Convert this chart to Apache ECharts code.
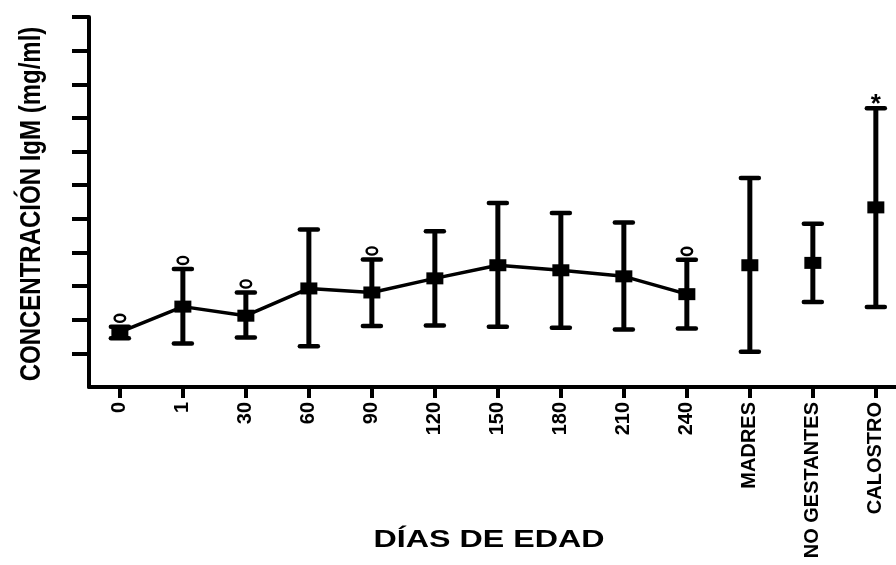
<!DOCTYPE html>
<html>
<head>
<meta charset="utf-8">
<script src="https://cdn.jsdelivr.net/npm/echarts@6/dist/echarts.min.js"></script>
<style>
  html, body { margin: 0; padding: 0; background: #fff; }
  #chart { width: 896px; height: 565px; }
</style>
</head>
<body>
<div id="chart"></div>
<script>
// Groups along the x axis
const categories = ['0', '1', '30', '60', '90', '120', '150', '180', '210', '240', 'MADRES', 'NO GESTANTES', 'CALOSTRO'];
// Mean IgM concentration per group (axis units)
const means = [1.63, 2.39, 2.12, 2.93, 2.81, 3.23, 3.62, 3.47, 3.29, 2.76, 3.62, 3.69, 5.34];
// Upper and lower ends of the error bars
const upper = [1.79, 3.51, 2.81, 4.68, 3.79, 4.63, 5.47, 5.17, 4.89, 3.78, 6.21, 4.85, 8.29];
const lower = [1.45, 1.29, 1.47, 1.21, 1.81, 1.83, 1.79, 1.76, 1.71, 1.74, 1.05, 2.53, 2.38];
// Significance marks drawn above the bars
const marks = ['o', 'o', 'o', '', 'o', '', '', '', '', 'o', '', '', '*'];
// Number of day-of-age groups joined by the line
const lineCount = 10;
// Y-axis tick positions (no labels drawn)
const yTicks = [1, 2, 3, 4, 5, 6, 7, 8, 9, 10, 11];

const idx = categories.map((c, i) => i);
const lineData = idx.slice(0, lineCount).map(i => [i, means[i]]);
const soloData = idx.slice(lineCount).map(i => [i, means[i]]);
const barData = idx.map(i => [i, lower[i], upper[i]]);

const chart = echarts.init(document.getElementById('chart'), null, { renderer: 'canvas' });

const boldFont = 'Liberation Sans, Arial, sans-serif';

chart.setOption({
  animation: false,
  backgroundColor: '#ffffff',
  grid: { left: 89, right: 0, top: 17, bottom: 178, containLabel: false },
  xAxis: {
    type: 'value',
    min: -0.49,
    max: 12.32,
    splitLine: { show: false },
    axisLine: { show: true, onZero: false, lineStyle: { color: '#000', width: 4 } },
    axisTick: { show: true, customValues: idx, length: 11, lineStyle: { color: '#000', width: 4 } },
    axisLabel: {
      show: true,
      customValues: idx,
      rotate: 90,
      margin: 15,
      color: '#000',
      fontFamily: boldFont,
      fontWeight: 'bold',
      fontSize: 20,
      formatter: v => categories[Math.round(v)]
    }
  },
  yAxis: {
    type: 'value',
    min: 0,
    max: 11,
    splitLine: { show: false },
    axisLine: { show: true, onZero: false, lineStyle: { color: '#000', width: 4 } },
    axisTick: { show: true, customValues: yTicks, length: 17, lineStyle: { color: '#000', width: 4 } },
    axisLabel: { show: false }
  },
  graphic: [
    {
      type: 'text',
      x: 32,
      y: 204,
      rotation: Math.PI / 2,
      scaleY: 1.25,
      style: {
        text: 'CONCENTRACIÓN IgM (mg/ml)',
        fill: '#000',
        font: 'bold 24px ' + boldFont,
        textAlign: 'center',
        textVerticalAlign: 'middle'
      }
    },
    {
      type: 'text',
      x: 489,
      y: 541,
      scaleX: 1.4,
      style: {
        text: 'DÍAS DE EDAD',
        fill: '#000',
        font: 'bold 23px ' + boldFont,
        textAlign: 'center',
        textVerticalAlign: 'middle'
      }
    }
  ],
  series: [
    {
      type: 'custom',
      name: 'errores',
      z: 2,
      data: barData,
      encode: { x: 0, y: [1, 2] },
      renderItem: function (params, api) {
        const i = api.value(0);
        const lo = api.coord([i, api.value(1)]);
        const hi = api.coord([i, api.value(2)]);
        const half = 9;
        const capStyle = { stroke: '#000', lineWidth: 4.5, lineCap: 'round' };
        const children = [
          { type: 'line', shape: { x1: lo[0], y1: lo[1], x2: hi[0], y2: hi[1] }, style: { stroke: '#000', lineWidth: 5 } },
          { type: 'line', shape: { x1: hi[0] - half, y1: hi[1], x2: hi[0] + half, y2: hi[1] }, style: capStyle },
          { type: 'line', shape: { x1: lo[0] - half, y1: lo[1], x2: lo[0] + half, y2: lo[1] }, style: capStyle }
        ];
        const m = marks[i];
        if (m === 'o') {
          children.push({
            type: 'ellipse',
            shape: { cx: hi[0], cy: hi[1] - 8.5, rx: 5.3, ry: 3.6 },
            style: { fill: '#fff', stroke: '#000', lineWidth: 2.4 }
          });
        } else if (m === '*') {
          children.push({
            type: 'text',
            x: hi[0],
            y: hi[1] + 10,
            style: {
              text: '*',
              fill: '#000',
              font: 'bold 26px ' + boldFont,
              textAlign: 'center',
              textVerticalAlign: 'bottom'
            }
          });
        }
        return { type: 'group', children: children };
      }
    },
    {
      type: 'line',
      name: 'media',
      z: 3,
      data: lineData,
      symbol: 'rect',
      symbolSize: [17, 12],
      showAllSymbol: true,
      itemStyle: { color: '#000' },
      lineStyle: { color: '#000', width: 3.5 }
    },
    {
      type: 'scatter',
      name: 'grupos',
      z: 3,
      data: soloData,
      symbol: 'rect',
      symbolSize: [17, 12],
      itemStyle: { color: '#000', opacity: 1 }
    }
  ]
});
</script>
</body>
</html>
